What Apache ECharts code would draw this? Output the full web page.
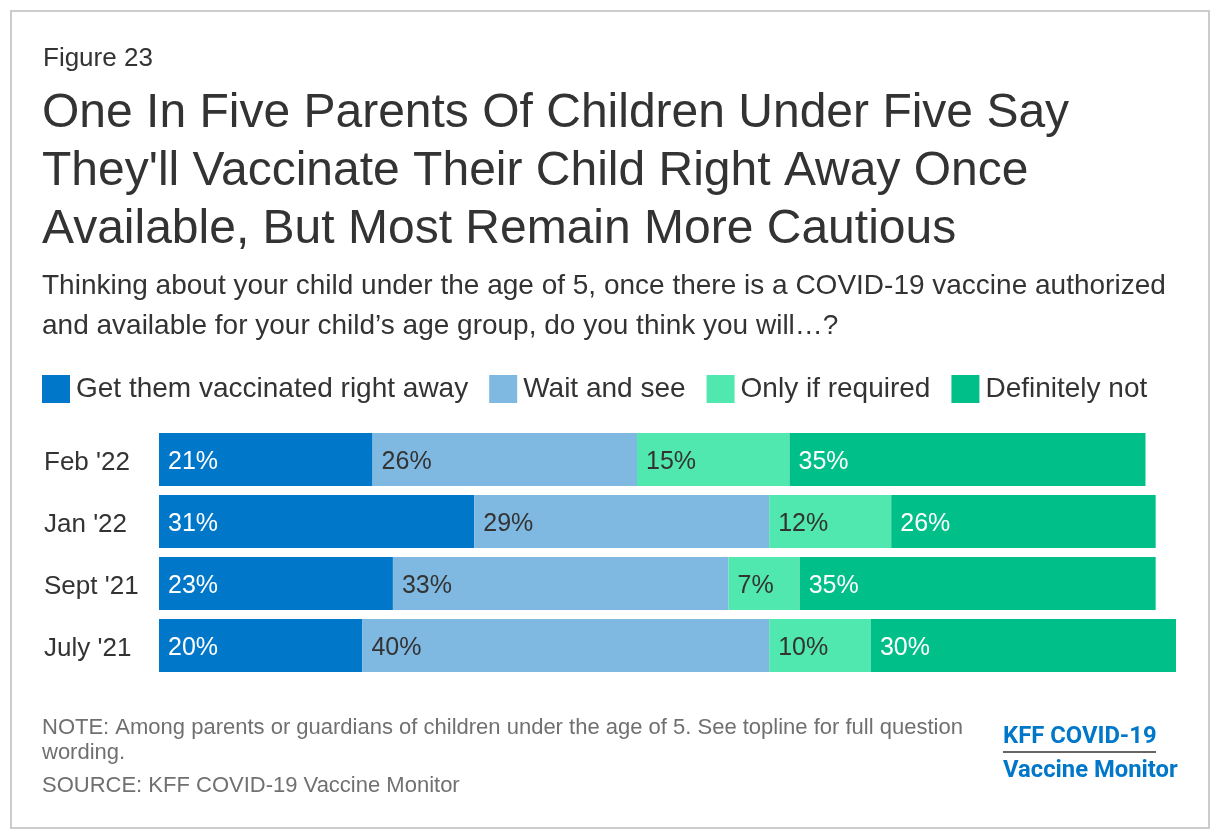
<!DOCTYPE html>
<html><head><meta charset="utf-8">
<script src="https://cdn.jsdelivr.net/npm/echarts@6/dist/echarts.min.js"></script>
<style>html,body{margin:0;padding:0;background:#fff}#c{width:1220px;height:840px}</style>
</head><body><div id="c"></div>
<script>
const categories = ["Feb '22", "Jan '22", "Sept '21", "July '21"];
const seriesNames = ["Get them vaccinated right away", "Wait and see", "Only if required", "Definitely not"];
const rightAway = [21, 31, 23, 20];
const waitAndSee = [26, 29, 33, 40];
const onlyIfRequired = [15, 12, 7, 10];
const definitelyNot = [35, 26, 35, 30];
const colors = ['#0077c8', '#7fb9e1', '#50e8ae', '#00bf89'];
const labelColors = ['#ffffff', '#333333', '#333333', '#ffffff'];
const values = [rightAway, waitAndSee, onlyIfRequired, definitelyNot];

const FONT = 'Liberation Sans, Arial, sans-serif';
const chart = echarts.init(document.getElementById('c'), null, {renderer: 'canvas'});

function t(x, y, text, size, color, weight, family) {
  return {type: 'text', x: x, y: y, style: {text: text, fontSize: size, fontFamily: family || FONT, fontWeight: weight || 'normal', fill: color, align: 'left', verticalAlign: 'middle'}};
}

const option = {
  backgroundColor: '#ffffff',
  animation: false,
  textStyle: {fontFamily: FONT},
  legend: {
    left: 42, top: 375, padding: 0,
    itemWidth: 28, itemHeight: 28, itemGap: 21,
    icon: 'rect',
    textStyle: {fontSize: 28, color: '#333333', fontFamily: FONT, padding: [4, 0, 0, 1]},
    data: seriesNames
  },
  grid: {left: 159, width: 1017, top: 428.5, height: 248, containLabel: false},
  xAxis: {type: 'value', min: 0, max: 100, show: false},
  yAxis: {
    type: 'category', data: categories, inverse: true,
    axisLine: {show: false}, axisTick: {show: false},
    axisLabel: {align: 'left', margin: 115, fontSize: 26, color: '#333333', fontFamily: FONT, padding: [0, 0, 0, 0], verticalAlign: 'middle', lineHeight: 26, rich: {}, formatter: function (v) { return '{a|' + v + '}'; }}
  },
  series: values.map((v, i) => ({
    name: seriesNames[i], type: 'bar', stack: 'total', data: v,
    barCategoryGap: '14.5%',
    itemStyle: {color: colors[i]},
    label: {show: true, position: 'insideLeft', distance: 9, offset: [0, 2.5], formatter: '{c}%', fontSize: 25, color: labelColors[i], fontFamily: FONT}
  })),
  graphic: [
    {type: 'rect', shape: {x: 11, y: 11, width: 1198, height: 817}, style: {fill: 'none', stroke: '#cccccc', lineWidth: 2}, silent: true},
    t(43, 59, 'Figure 23', 26, '#333333'),
    t(42, 114, 'One In Five Parents Of Children Under Five Say', 48, '#333333'),
    t(42, 172, "They'll Vaccinate Their Child Right Away Once", 48, '#333333'),
    t(42, 230, 'Available, But Most Remain More Cautious', 48, '#333333'),
    t(42, 286, 'Thinking about your child under the age of 5, once there is a COVID-19 vaccine authorized', 28, '#333333'),
    t(42, 326, 'and available for your child\u2019s age group, do you think you will\u2026?', 28, '#333333'),
    t(42, 728, 'NOTE: Among parents or guardians of children under the age of 5. See topline for full question', 22, '#707070'),
    t(42, 753, 'wording.', 22, '#707070'),
    t(42, 786, 'SOURCE: KFF COVID-19 Vaccine Monitor', 22, '#707070'),
    t(1003, 737, 'KFF COVID-19', 23.8, '#0077c8', 'bold', 'Roboto, sans-serif'),
    {type: 'line', shape: {x1: 1003, y1: 752, x2: 1156, y2: 752}, style: {stroke: '#333333', lineWidth: 1.5}},
    t(1003, 771, 'Vaccine Monitor', 23.8, '#0077c8', 'bold', 'Roboto, sans-serif')
  ]
};
option.yAxis.axisLabel.rich = {a: {fontSize: 26, color: '#333333', fontFamily: FONT, padding: [6, 0, 0, 0], lineHeight: 26}};
chart.setOption(option);
</script>
</body></html>
